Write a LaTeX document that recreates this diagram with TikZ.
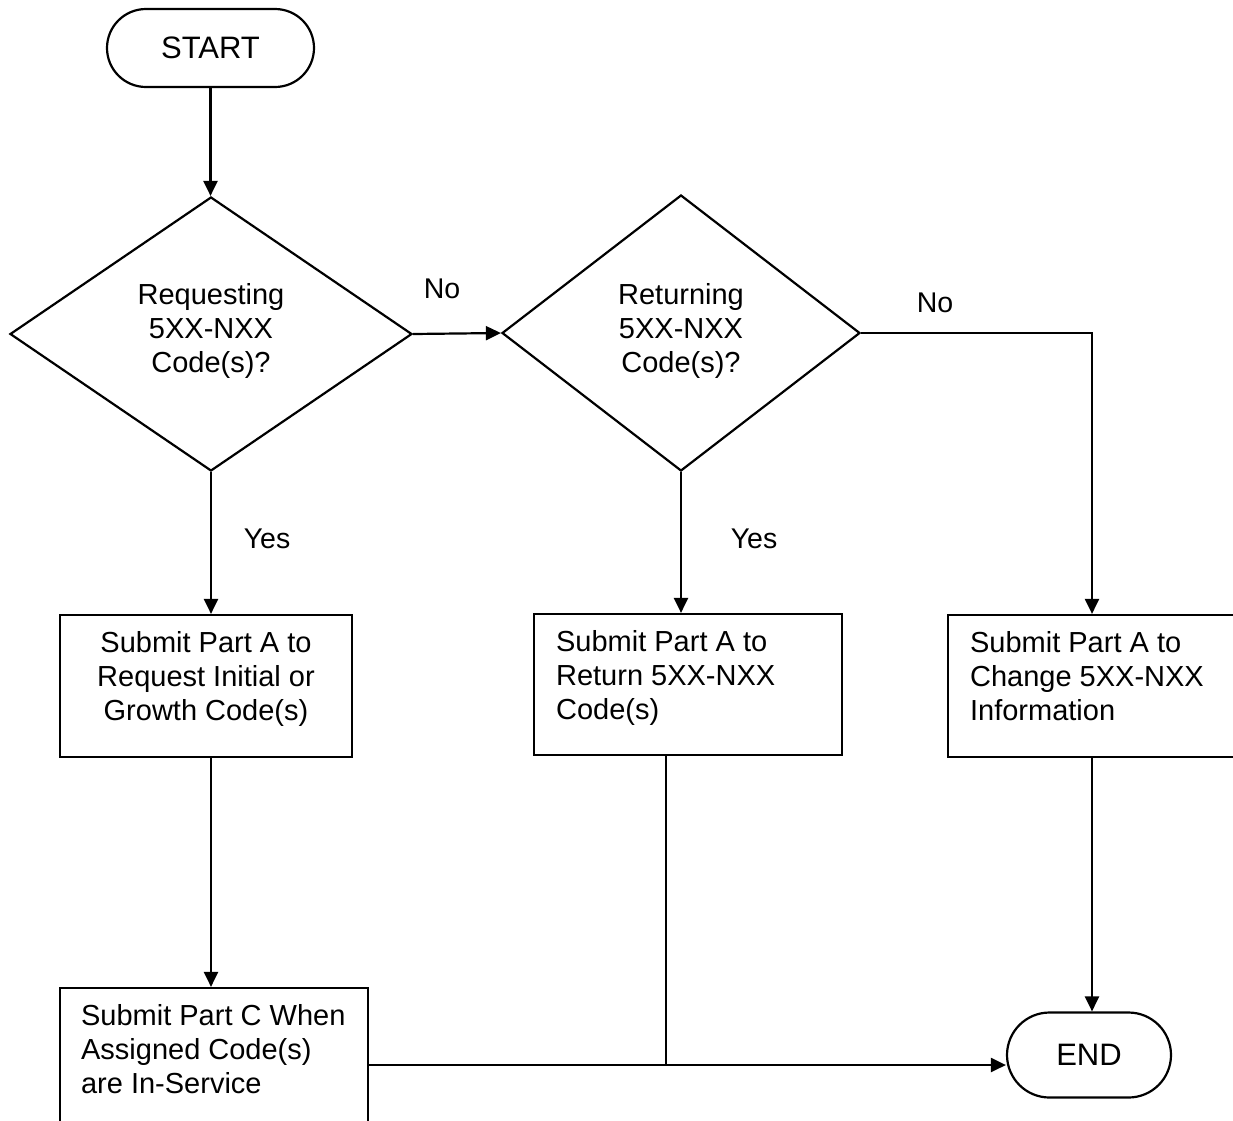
\documentclass[tikz,border=0pt]{standalone}
\usepackage{fontspec}
\setmainfont{Liberation Sans}
\usetikzlibrary{shapes.geometric,shapes.misc,arrows.meta,calc}
\newcommand\clines[1]{\vtop{\halign{\hfil##\hfil\cr#1\crcr}}}
\newcommand\llines[1]{\vtop{\halign{##\hfil\cr#1\crcr}}}
\begin{document}
\begin{tikzpicture}[x=1pt,y=-1pt,line width=2.2pt,
  term/.style={draw, rounded rectangle, inner sep=0pt, font=\fontsize{31}{37}\selectfont},
  proc/.style={draw, rectangle, inner sep=0pt},
  dec/.style={draw, diamond, inner sep=0pt},
  txt/.style={inner sep=0pt, font=\fontsize{29}{34}\selectfont},
  dtxt/.style={inner sep=0pt, font=\fontsize{29}{34}\selectfont},
  lbl/.style={inner sep=0pt, font=\fontsize{28.5}{34}\selectfont, anchor=base},
  arr/.style={-{Triangle[length=15pt,width=14pt]}}]
\useasboundingbox (0,0) rectangle (1233,1120);
\clip (0,0) rectangle (1233,1120);
\fill[white] (0,0) rectangle (1233,1120);
% shapes
\node[term, minimum width=207pt, minimum height=78pt] (start) at (210.5,48) {START};
\node[dec, minimum width=402pt, minimum height=274pt] (d1) at (211,334) {};
\node[dec, minimum width=358pt, minimum height=276pt] (d2) at (681,333) {};
\node[proc, minimum width=292pt, minimum height=142pt] (b1) at (206,686) {};
\node[proc, minimum width=308pt, minimum height=141pt] (b2) at (688,684.5) {};
\node[proc, minimum width=288pt, minimum height=142pt] (b3) at (1092,686) {};
\node[proc, minimum width=308pt, minimum height=154pt] (b4) at (214,1065) {};
\node[term, minimum width=164pt, minimum height=85pt] (end) at (1089,1055) {END};
% texts
\node[dtxt, anchor=base] (t1) at (211,304) {\clines{Requesting\cr 5XX-NXX\cr Code(s)?}};
\node[dtxt, anchor=base] (t2) at (681,304) {\clines{Returning\cr 5XX-NXX\cr Code(s)?}};
\node[txt, anchor=base] (t3) at (206,652) {\clines{Submit Part A to\cr Request Initial or\cr Growth Code(s)}};
\node[txt, anchor=base west] (t4) at (555,651) {\llines{Submit Part A to\cr Return 5XX-NXX\cr Code(s)}};
\node[txt, anchor=base west] (t5) at (969,652) {\llines{Submit Part A to\cr Change 5XX-NXX\cr Information}};
\node[txt, anchor=base west] (t6) at (80,1025) {\llines{Submit Part C When\cr Assigned Code(s)\cr are In-Service}};
% labels
\node[lbl] (no1) at (442,298) {No};
\node[lbl] (no2) at (935,312) {No};
\node[lbl] (yes1) at (267,548) {Yes};
\node[lbl] (yes2) at (754,548) {Yes};
% connectors
\draw[arr] (start.south) -- (start.south |- d1.north);
\draw[arr] (d1.east) -- (d2.west);
\draw[arr] (d2.east) -| (b3.north);
\draw[arr] (d1.south) -- (d1.south |- b1.north);
\draw[arr] (d2.south) -- (d2.south |- b2.north);
\draw[arr] (d1.south |- b1.south) -- (d1.south |- b4.north);
\draw[arr] (b3.south) -- (b3.south |- end.north);
\draw[arr] (b4.east) -- (end.west |- b4.east);
\draw ([xshift=-22pt]b2.south) -- ([xshift=-22pt]b2.south |- b4.east);
\end{tikzpicture}
\end{document}
